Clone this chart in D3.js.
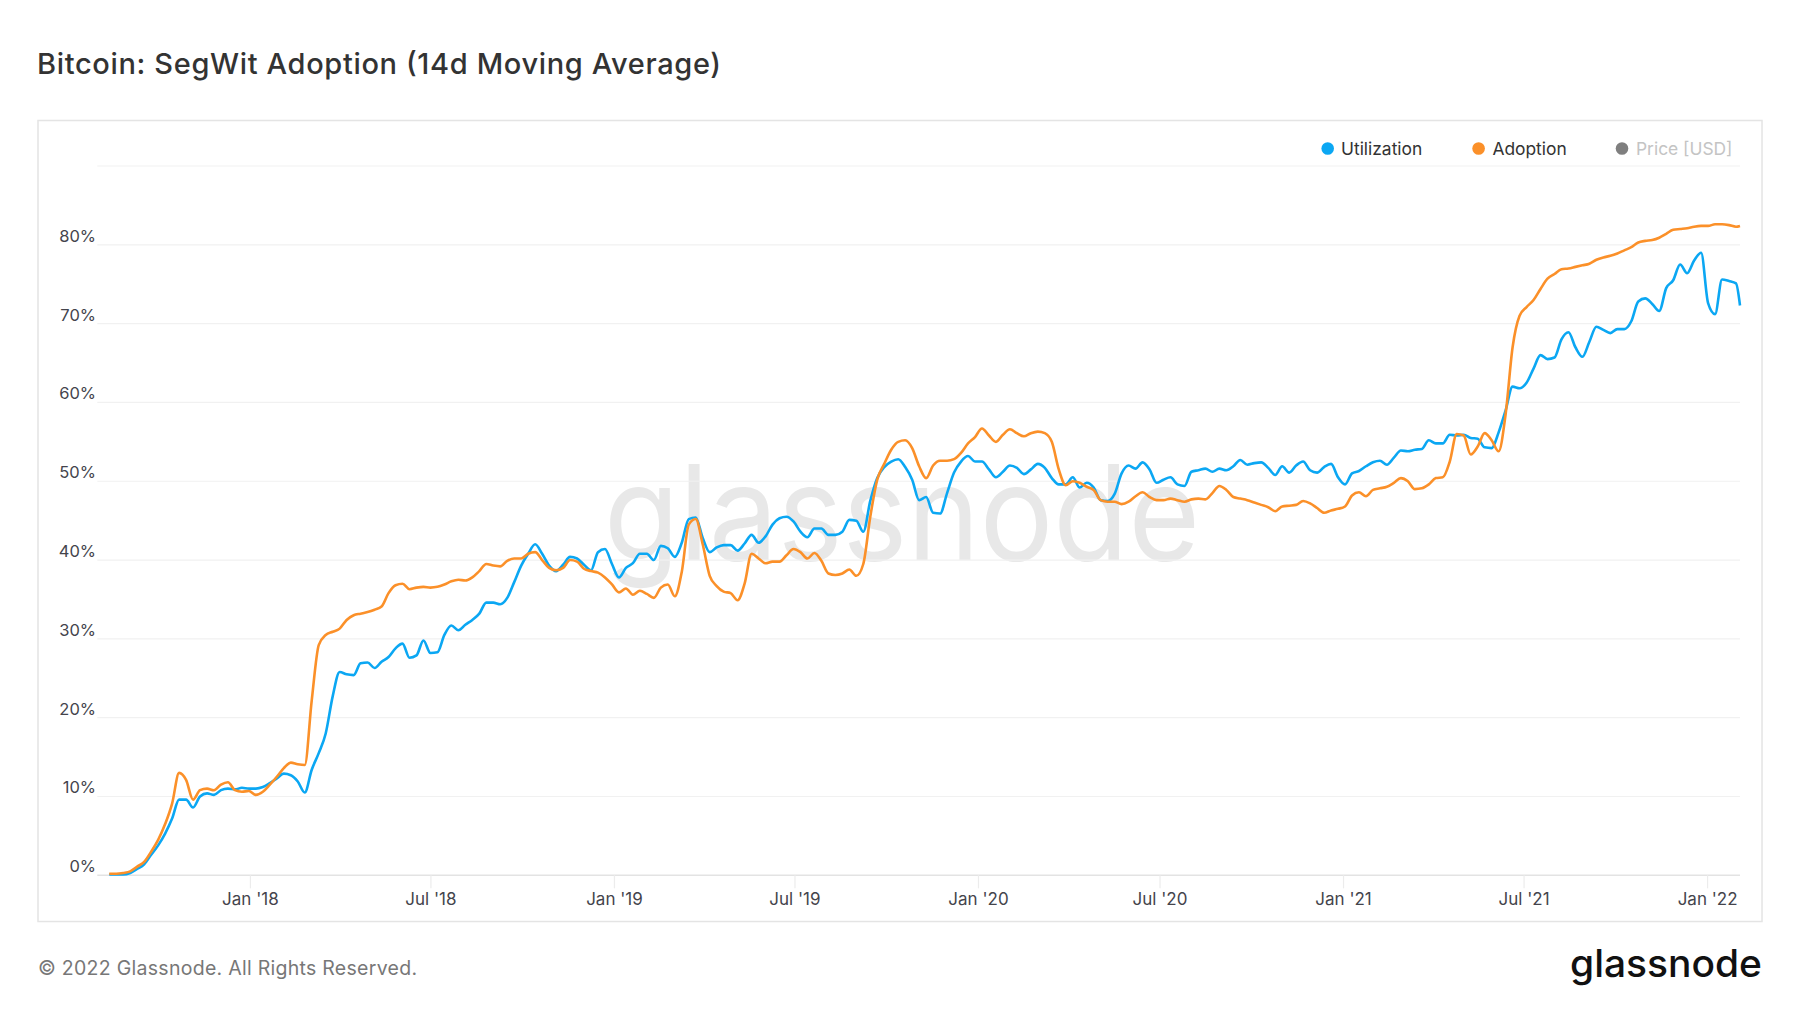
<!DOCTYPE html>
<html>
<head>
<meta charset="utf-8">
<script src="https://cdn.jsdelivr.net/npm/d3@7/dist/d3.min.js"></script>
<style>
  html, body { margin: 0; padding: 0; background: #ffffff; }
  svg { display: block; font-family: Inter, "Noto Sans", sans-serif; }
</style>
</head>
<body>
<svg id="chart" width="1800" height="1013"></svg>
<script>
// ---------------- DATA ----------------
const seriesNames = ["Utilization", "Adoption", "Price [USD]"];
const firstSampleDate = "2017-08-13";   // weekly samples from here
const sampleStepDays = 7;
const finalSampleDate = "2022-02-03";   // last sample
const xTickDates = ["2018-01-01","2018-07-01","2019-01-01","2019-07-01","2020-01-01","2020-07-01","2021-01-01","2021-07-01","2022-01-01"];
const yTickValues = [0,10,20,30,40,50,60,70,80];
const yGridValues = [0,10,20,30,40,50,60,70,80,90];

// Utilization (%) weekly, then final sample
const utilization = [
  0.1,0.1,0.1,0.3,0.8,1.4,2.6,3.8,5.3,7.2,
  9.6,9.6,8.6,10.0,10.4,10.2,10.8,11.0,10.9,11.1,
  11.0,11.0,11.2,11.7,12.3,12.9,12.7,11.9,10.5,13.4,
  15.5,18.0,22.7,25.8,25.5,25.4,26.9,27.0,26.3,27.1,
  27.7,28.8,29.4,27.6,27.9,29.8,28.2,28.3,30.5,31.7,
  31.1,31.8,32.4,33.2,34.6,34.6,34.4,35.2,37.2,39.3,
  40.8,42.0,40.8,39.3,38.6,39.4,40.4,40.2,39.4,38.7,
  41.0,41.4,39.5,37.8,39.0,39.6,40.8,40.8,40.0,41.8,
  41.5,40.4,42.2,45.2,45.4,42.8,41.0,41.6,41.9,41.9,
  41.2,42.1,43.2,42.2,43.0,44.5,45.3,45.5,44.9,43.6,
  42.9,44.0,44.0,43.2,43.2,43.6,45.1,45.0,43.6,47.5,
  50.4,51.8,52.5,52.8,51.8,50.2,47.6,48.0,46.0,45.9,
  48.5,51.1,52.5,53.2,52.5,52.5,51.5,50.5,51.2,52.0,
  51.7,50.9,51.5,52.2,51.7,50.4,49.6,49.6,50.5,49.2,
  49.8,49.2,47.6,47.5,48.4,51.0,52.0,51.6,52.4,51.5,
  49.8,50.2,50.5,49.6,49.4,51.2,51.4,51.6,51.2,51.6,
  51.4,51.9,52.7,52.1,52.3,52.4,51.7,50.8,51.9,51.1,
  52.0,52.5,51.4,51.1,51.8,52.2,50.5,49.6,51.0,51.3,
  51.9,52.4,52.6,52.1,53.0,53.9,53.8,54.0,54.1,55.2,
  54.8,54.8,55.9,55.8,55.9,55.5,55.4,54.3,54.2,56.2,
  59.0,62.0,61.8,62.5,64.3,66.0,65.5,65.7,68.0,68.9,
  67.0,65.8,67.7,69.6,69.2,68.8,69.3,69.3,70.3,72.8,
  73.2,72.5,71.6,74.5,75.5,77.5,76.4,78.0,79.0,72.6,
  71.2,75.6,75.4,75.1,
  72.3
];

// Adoption (%) weekly, then final sample
const adoption = [
  0.2,0.2,0.3,0.5,1.1,1.7,3.0,4.5,6.5,9.1,
  13.0,12.1,9.6,10.8,11.0,10.8,11.5,11.8,10.8,10.6,
  10.7,10.2,10.6,11.5,12.5,13.6,14.3,14.1,14.0,22.2,
  29.2,30.5,30.9,31.3,32.4,33.0,33.2,33.4,33.7,34.1,
  35.8,36.8,37.0,36.3,36.5,36.6,36.5,36.6,36.9,37.3,
  37.5,37.4,37.8,38.6,39.5,39.3,39.2,39.9,40.2,40.2,
  40.8,41.0,40.0,39.0,38.7,39.0,40.0,39.8,38.9,38.6,
  38.4,37.8,36.9,35.9,36.4,35.6,36.1,35.7,35.2,36.5,
  36.9,35.4,38.5,44.5,45.2,42.0,38.0,36.7,36.0,35.8,
  34.9,37.0,40.8,40.2,39.6,39.8,39.8,40.6,41.4,41.0,
  40.2,40.9,39.9,38.3,38.1,38.3,38.8,38.0,39.5,45.5,
  50.2,52.2,54.0,55.0,55.2,54.2,51.9,50.4,52.0,52.6,
  52.6,52.8,53.6,54.8,55.6,56.7,55.8,55.0,55.9,56.6,
  56.1,55.7,56.1,56.3,56.1,55.0,51.5,49.5,50.0,49.8,
  49.3,48.9,47.6,47.4,47.4,47.1,47.4,48.1,48.6,48.0,
  47.6,47.6,47.8,47.6,47.4,47.7,47.8,47.7,48.5,49.4,
  48.9,48.0,47.8,47.6,47.3,47.0,46.7,46.2,46.8,46.9,
  47.0,47.5,47.2,46.6,46.0,46.3,46.5,46.8,48.2,48.6,
  48.1,48.9,49.1,49.3,49.8,50.4,50.0,49.0,49.1,49.6,
  50.4,50.5,52.5,56.0,55.8,53.4,54.4,56.1,55.2,53.8,
  58.5,67.0,71.0,72.1,73.0,74.4,75.7,76.3,76.9,77.0,
  77.2,77.4,77.6,78.1,78.4,78.6,78.9,79.3,79.7,80.3,
  80.5,80.6,80.9,81.4,81.9,82.0,82.1,82.3,82.4,82.4,
  82.6,82.6,82.5,82.3,
  82.4
];

// ---------------- BUILD ----------------
const parse = d3.utcParse("%Y-%m-%d");
const start = parse(firstSampleDate);
const dates = utilization.map((_, i) =>
  i < utilization.length - 1 ? d3.utcDay.offset(start, i * sampleStepDays) : parse(finalSampleDate));

const colors = { util: "#0ba7f3", adopt: "#fb9029", price: "#7f7f7f" };

const svg = d3.select("#chart");

// panel box
svg.append("rect")
  .attr("x", 38).attr("y", 120.5).attr("width", 1724).attr("height", 801)
  .attr("fill", "none").attr("stroke", "#e4e4e4").attr("stroke-width", 1.5);

// title
svg.append("text")
  .attr("x", 37).attr("y", 74)
  .attr("font-size", 29).attr("font-weight", 500).attr("fill", "#333333")
  .attr("textLength", 684).attr("lengthAdjust", "spacing")
  .text("Bitcoin: SegWit Adoption (14d Moving Average)");

const x = d3.scaleUtc()
  .domain([parse("2017-08-01"), parse("2022-02-03")])
  .range([97.3, 1740]);
const y = d3.scaleLinear().domain([0, 90]).range([875.3, 166]);

// watermark
svg.append("text")
  .attr("x", 604).attr("y", 560)
  .attr("font-size", 132).attr("font-weight", 400)
  .attr("fill", "#e8e8e8")
  .attr("textLength", 596).attr("lengthAdjust", "spacingAndGlyphs")
  .text("glassnode");

// gridlines
const grid = svg.append("g");
grid.selectAll("line").data(yGridValues).join("line")
  .attr("x1", 97.3).attr("x2", 1740)
  .attr("y1", d => y(d)).attr("y2", d => y(d))
  .attr("stroke", d => d === 0 ? "#e3e3e3" : "#f1f1f1")
  .attr("stroke-width", d => d === 0 ? 1.5 : 1.2);

// y-axis labels
svg.append("g").selectAll("text").data(yTickValues).join("text")
  .attr("x", 96).attr("y", d => y(d) - 3)
  .attr("text-anchor", "end")
  .attr("font-size", 16.5).attr("fill", "#44444c")
  .text(d => d + "%");

// x-axis via d3.axisBottom
const xAxis = d3.axisBottom(x)
  .tickValues(xTickDates.map(parse))
  .tickFormat(d3.utcFormat("%b '%y"))
  .tickSize(13).tickSizeOuter(0);
const gx = svg.append("g").attr("transform", `translate(0,${y(0)})`).call(xAxis);
gx.select(".domain").remove();
gx.selectAll(".tick line").attr("stroke", "#ececec").attr("stroke-width", 1.2);
gx.selectAll(".tick text")
  .attr("y", 18).attr("dy", "0.71em")
  .attr("font-family", "Inter, 'Noto Sans', sans-serif")
  .attr("font-size", 17).attr("fill", "#44444c");

// lines
const line = vals => d3.line()
  .x((d, i) => x(dates[i]))
  .y(d => y(d))
  .curve(d3.curveMonotoneX)(vals);

svg.append("path").attr("d", line(utilization))
  .attr("fill", "none").attr("stroke", colors.util)
  .attr("stroke-width", 2.6).attr("stroke-linejoin", "round");
svg.append("path").attr("d", line(adoption))
  .attr("fill", "none").attr("stroke", colors.adopt)
  .attr("stroke-width", 2.6).attr("stroke-linejoin", "round");

// legend
const legend = [
  { name: seriesNames[0], cx: 1327.7, tx: 1341, dot: colors.util, txt: "#333333" },
  { name: seriesNames[1], cx: 1478.6, tx: 1492.4, dot: colors.adopt, txt: "#333333" },
  { name: seriesNames[2], cx: 1622, tx: 1636, dot: colors.price, txt: "#c4c4c4" }
];
const lg = svg.append("g");
lg.selectAll("circle").data(legend).join("circle")
  .attr("cx", d => d.cx).attr("cy", 148.5).attr("r", 6.3).attr("fill", d => d.dot);
lg.selectAll("text").data(legend).join("text")
  .attr("x", d => d.tx).attr("y", 154.5)
  .attr("font-size", 17.4).attr("fill", d => d.txt)
  .text(d => d.name);

// footer
svg.append("text")
  .attr("x", 38).attr("y", 975)
  .attr("font-size", 19.5).attr("fill", "#777777")
  .attr("textLength", 379).attr("lengthAdjust", "spacing")
  .text("© 2022 Glassnode. All Rights Reserved.");

// logo
svg.append("text")
  .attr("x", 1570).attr("y", 977)
  .attr("font-size", 38).attr("font-weight", 500).attr("fill", "#111111")
  .attr("textLength", 192).attr("lengthAdjust", "spacingAndGlyphs")
  .text("glassnode");
</script>
</body>
</html>
